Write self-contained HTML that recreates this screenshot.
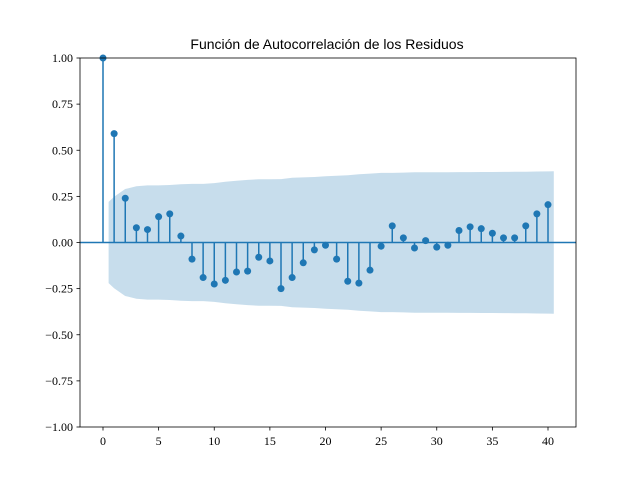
<!DOCTYPE html>
<html><head><meta charset="utf-8"><style>body{margin:0;background:#fff}</style></head><body>
<svg width="640" height="480" xmlns="http://www.w3.org/2000/svg" font-family="Liberation Serif, serif" font-size="12">
<rect width="640" height="480" fill="#fff"/>
<script>/* static */</script>
<g id="band"></g>
<polygon fill="#1f77b4" fill-opacity="0.25" points="
108.6,201.9 114.1,196.7 125.2,189.0 136.4,186.3 147.5,185.4 158.6,185.4 169.8,185.0 180.9,184.2 192.0,183.9 203.2,183.9 214.3,183.1 225.4,181.8 236.5,180.7 247.7,179.9 258.8,179.3 269.9,179.3 281.1,179.1 292.2,177.7 303.3,177.4 314.5,177.0 325.6,176.3 336.7,175.7 347.9,175.3 359.0,174.2 370.1,173.6 381.2,172.9 392.4,172.9 403.5,172.6 414.6,172.3 425.8,172.3 436.9,172.3 448.0,172.3 459.2,172.1 470.3,172.1 481.4,172.0 492.5,172.0 503.7,171.9 514.8,171.8 525.9,171.7 537.1,171.5 548.2,171.4 553.8,171.3
553.8,313.7 548.2,313.6 537.1,313.5 525.9,313.3 514.8,313.2 503.7,313.1 492.5,313.0 481.4,313.0 470.3,312.9 459.2,312.9 448.0,312.7 436.9,312.7 425.8,312.7 414.6,312.7 403.5,312.4 392.4,312.1 381.2,312.1 370.1,311.4 359.0,310.8 347.9,309.7 336.7,309.3 325.6,308.7 314.5,308.0 303.3,307.6 292.2,307.3 281.1,305.9 269.9,305.7 258.8,305.7 247.7,305.1 236.5,304.3 225.4,303.2 214.3,301.9 203.2,301.1 192.0,301.1 180.9,300.8 169.8,300.0 158.6,299.6 147.5,299.6 136.4,298.7 125.2,296.0 114.1,288.3 108.6,283.1"/>
<g stroke="#1f77b4" stroke-width="1.5" fill="#1f77b4" id="stems"></g>
<line x1="80" y1="242.5" x2="576" y2="242.5" stroke="#1f77b4" stroke-width="1.5"/>
<rect x="80" y="58" width="496" height="369" fill="none" stroke="#000" stroke-width="0.8"/>
<g id="ticks" stroke="#000" stroke-width="0.8"></g>
<g id="labels" fill="#000"></g>
<text x="327" y="49" text-anchor="middle" font-family="Liberation Sans, sans-serif" font-size="14">Función de Autocorrelación de los Residuos</text>
</svg>
<script>
var v=[1,0.59,0.24,0.08,0.07,0.14,0.155,0.035,-0.09,-0.19,-0.225,-0.205,-0.16,-0.155,-0.08,-0.1,-0.25,-0.19,-0.11,-0.04,-0.015,-0.09,-0.21,-0.22,-0.15,-0.02,0.09,0.025,-0.03,0.01,-0.025,-0.015,0.065,0.085,0.075,0.05,0.025,0.025,0.09,0.155,0.205];
var ns="http://www.w3.org/2000/svg";
function X(l){return 103+l*11.125;}function Y(a){return 242.5-a*184.5;}
var s=document.getElementById('stems');
function el(p,t,a){var e=document.createElementNS(ns,t);for(var k in a)e.setAttribute(k,a[k]);p.appendChild(e);return e;}
v.forEach(function(a,i){el(s,'line',{x1:X(i),x2:X(i),y1:242.5,y2:Y(a)});el(s,'circle',{cx:X(i),cy:Y(a),r:3.5,stroke:'none'});});
var t=document.getElementById('ticks'),lb=document.getElementById('labels');
for(var i=0;i<=40;i+=5){el(t,'line',{x1:X(i),x2:X(i),y1:427,y2:430.5});var e=el(lb,'text',{x:X(i),y:445,'text-anchor':'middle'});e.textContent=i;}
for(var j=-4;j<=4;j++){var a=j*0.25,y=Y(a);el(t,'line',{x1:76.5,x2:80,y1:y,y2:y});var e=el(lb,'text',{x:73,y:y+4,'text-anchor':'end'});e.textContent=(a<0?'\u2212':'')+Math.abs(a).toFixed(2);}
</script>
</body></html>
